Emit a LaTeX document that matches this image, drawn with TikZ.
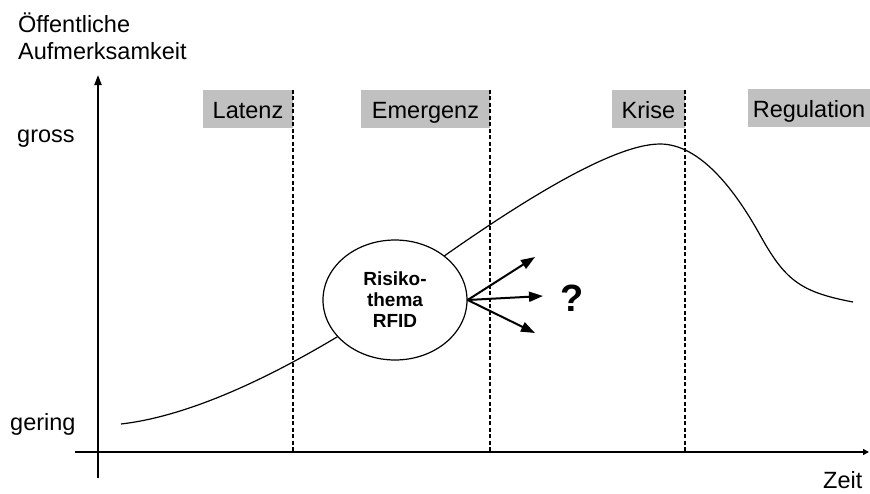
\documentclass[tikz,border=0pt]{standalone}
\usepackage{fontspec}
\setmainfont{Liberation Sans}
\usetikzlibrary{shapes.geometric,arrows.meta}
\definecolor{boxgray}{RGB}{192,192,192}
\begin{document}
\begin{tikzpicture}[x=1pt,y=-1pt,
  lbl/.style={font=\fontsize{23.5}{27}\selectfont, inner sep=0pt},
  phasebox/.style={fill=boxgray, minimum height=38pt, inner sep=0pt, text height=20pt, text depth=1pt, font=\fontsize{23.5}{27}\selectfont},
  divider/.style={dash pattern=on 4pt off 2.5pt, line width=1.8pt},
  axisline/.style={line width=2pt},
  curveline/.style={line width=1.2pt},
  outarrow/.style={line width=2pt, -{Triangle[length=14pt,width=10pt]}}]
\useasboundingbox[fill=white] (0,0) rectangle (870,493);

% axes
\coordinate (yb) at (98,478);
\coordinate (yt) at (98,75);
\coordinate (xa0) at (75,452);
\coordinate (xa1) at (869,452);
\draw[axisline, -{Triangle[length=10pt,width=7pt]}] (yb) -- (yt);
\draw[line width=2.6pt, -{Triangle[length=6pt,width=6pt]}] (xa0) -- (xa1);

% phase boxes
\node[phasebox, minimum width=90pt] (latenz) at (248,109) {Latenz};
\node[phasebox, minimum width=129pt] (emergenz) at (425.5,109) {Emergenz};
\node[phasebox, minimum width=73pt] (krise) at (648.5,109) {Krise};
\node[phasebox, minimum width=122pt] (regulation) at (809,107.5) {Regulation};

% dividers
\draw[divider] (latenz.north east) -- (latenz.north east |- xa0);
\draw[divider] (emergenz.north east) -- (emergenz.north east |- xa0);
\draw[divider] (krise.north east) -- (krise.north east |- xa0);

% labels
\node[lbl, anchor=base west] (ylab1) at (18,32) {Öffentliche};
\node[lbl, anchor=base west] (ylab2) at (18,59) {Aufmerksamkeit};
\node[lbl, anchor=base west] (gross) at (17,142) {gross};
\node[lbl, anchor=base west] (gering) at (10,430) {gering};
\node[lbl, anchor=base west] (zeit) at (823,488) {Zeit};

% curve
\draw[curveline] (121,424) .. controls (200,415) and (290,365) .. (337,337)
  -- (447,254)
  .. controls (510,210) and (610,144) .. (660,144)
  .. controls (700,144) and (735,190) .. (760,235)
  .. controls (785,280) and (800,292) .. (853,302);

% topic ellipse
\node[ellipse, draw, line width=1.2pt, fill=white, minimum width=144pt, minimum height=120pt, inner sep=0pt,
  align=center, font=\fontsize{19}{21}\selectfont\bfseries] (topic) at (395,300) {Risiko-\\thema\\RFID};

% arrows
\coordinate (t1) at (535,257);
\coordinate (t2) at (543,296);
\coordinate (t3) at (535,333);
\draw[outarrow] (topic.east) -- (t1);
\draw[outarrow] (topic.east) -- (t2);
\draw[outarrow] (topic.east) -- (t3);

\node[font=\fontsize{38}{40}\selectfont\bfseries, inner sep=0pt] (q) at (572,298) {?};
\end{tikzpicture}
\end{document}
